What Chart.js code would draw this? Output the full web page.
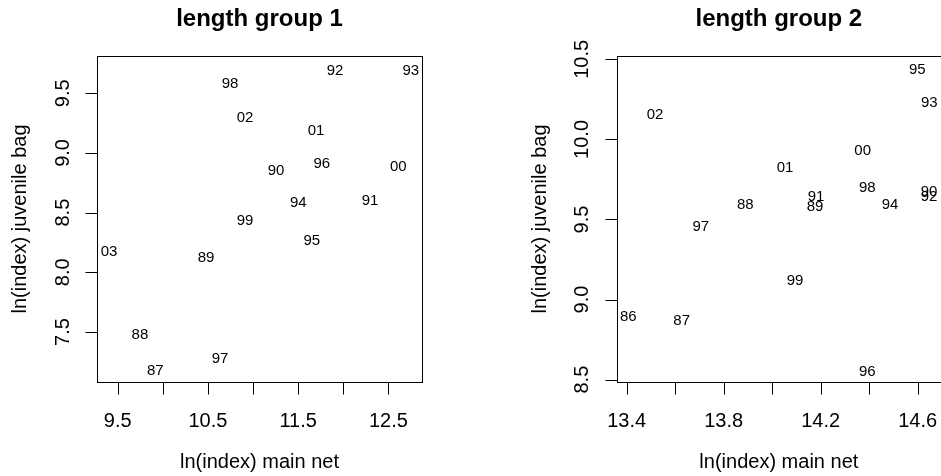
<!DOCTYPE html>
<html lang="en">
<head>
  <meta charset="UTF-8">
  <title>length groups: juvenile bag vs main net</title>
  <style>
    body {
      margin: 0;
      background: #fff;
    }
    .panel {
      position: absolute;
      top: 0;
    }
    #left { left: 0; }
    #right { left: 470px; }
  </style>
  <script src="https://cdn.jsdelivr.net/npm/chart.js"></script>
</head>
<body>
  <canvas id="left" class="panel" width="470" height="476"></canvas>
  <canvas id="right" class="panel" width="471" height="476"></canvas>

  <script>
    // length group 1: year labels, ln(index) main net, ln(index) juvenile bag
    const years1 = ['87', '88', '89', '90', '91', '92', '93', '94', '95', '96', '97', '98', '99', '00', '01', '02', '03'];
    const mainNet1 = [9.917, 9.747, 10.479, 11.255, 12.297, 11.909, 12.748, 11.502, 11.651, 11.762, 10.634, 10.745, 10.911, 12.611, 11.698, 10.911, 9.404];
    const juvBag1 = [7.183, 7.484, 8.129, 8.858, 8.612, 9.695, 9.701, 8.590, 8.271, 8.922, 7.286, 9.592, 8.439, 8.897, 9.193, 9.301, 8.179];

    // length group 2
    const years2 = ['86', '87', '88', '89', '90', '91', '92', '93', '94', '95', '96', '97', '98', '99', '00', '01', '02'];
    const mainNet2 = [13.407, 13.627, 13.889, 14.177, 14.647, 14.181, 14.647, 14.648, 14.486, 14.598, 14.392, 13.706, 14.392, 14.094, 14.373, 14.053, 13.517];
    const juvBag2 = [8.900, 8.871, 9.596, 9.589, 9.679, 9.650, 9.650, 10.233, 9.600, 10.439, 8.558, 9.464, 9.702, 9.127, 9.933, 9.827, 10.158];

    // axis ticks and the labels R kept (blank = tick without label)
    const xTicks1 = [9.5, 10, 10.5, 11, 11.5, 12, 12.5];
    const xTickLabels1 = ['9.5', '', '10.5', '', '11.5', '', '12.5'];
    const yTicks1 = [7.5, 8, 8.5, 9, 9.5];
    const yTickLabels1 = ['7.5', '8.0', '8.5', '9.0', '9.5'];

    const xTicks2 = [13.4, 13.6, 13.8, 14.0, 14.2, 14.4, 14.6];
    const xTickLabels2 = ['13.4', '', '13.8', '', '14.2', '', '14.6'];
    const yTicks2 = [8.5, 9, 9.5, 10, 10.5];
    const yTickLabels2 = ['8.5', '9.0', '9.5', '10.0', '10.5'];

    const FONT = '"Liberation Sans", Arial, Helvetica, sans-serif';

    function snap(v) {
      return Math.round(v) + 0.5;
    }

    // base-graphics style axes: box, outward ticks, rotated y labels
    const rAxes = {
      id: 'rAxes',
      afterDraw(chart, args, o) {
        const ctx = chart.ctx;
        const a = chart.chartArea;
        const xs = chart.scales.x;
        const ys = chart.scales.y;
        ctx.save();
        ctx.strokeStyle = '#000';
        ctx.fillStyle = '#000';
        ctx.lineWidth = 1;

        const l = snap(a.left), t = snap(a.top), r = snap(a.right), b = snap(a.bottom);
        ctx.strokeRect(l, t, r - l, b - t);

        ctx.font = '20px ' + FONT;
        ctx.textAlign = 'center';
        ctx.textBaseline = 'alphabetic';

        ctx.beginPath();
        o.xTicks.forEach(function(v) {
          const px = snap(xs.getPixelForValue(v));
          ctx.moveTo(px, b);
          ctx.lineTo(px, b + 12);
        });
        o.yTicks.forEach(function(v) {
          const py = snap(ys.getPixelForValue(v));
          ctx.moveTo(l - 12, py);
          ctx.lineTo(l, py);
        });
        ctx.stroke();

        o.xTicks.forEach(function(v, i) {
          if (o.xLabels[i]) ctx.fillText(o.xLabels[i], xs.getPixelForValue(v), a.bottom + 44.5);
        });
        o.yTicks.forEach(function(v, i) {
          ctx.save();
          ctx.translate(a.left - 28.5, ys.getPixelForValue(v));
          ctx.rotate(-Math.PI / 2);
          ctx.fillText(o.yLabels[i], 0, 0);
          ctx.restore();
        });

        // axis titles
        ctx.fillText(o.xTitle, (a.left + a.right) / 2, a.bottom + 86);
        ctx.save();
        ctx.translate(a.left - 71, (a.top + a.bottom) / 2);
        ctx.rotate(-Math.PI / 2);
        ctx.fillText(o.yTitle, 0, 0);
        ctx.restore();
        ctx.restore();
      }
    };

    // year labels drawn in place of the points
    const yearText = {
      id: 'yearText',
      afterDatasetsDraw(chart) {
        const ctx = chart.ctx;
        ctx.save();
        ctx.fillStyle = '#000';
        ctx.font = '15px ' + FONT;
        ctx.textAlign = 'center';
        ctx.textBaseline = 'alphabetic';
        chart.data.datasets.forEach(function(ds, di) {
          chart.getDatasetMeta(di).data.forEach(function(el, i) {
            ctx.fillText(ds.yearLabels[i], el.x, el.y + 5.3);
          });
        });
        ctx.restore();
      }
    };

    function makePanel(id, title, years, xs, ys, range, ticks, padding) {
      new Chart(document.getElementById(id), {
        type: 'scatter',
        data: {
          datasets: [{
            data: xs.map(function(v, i) { return { x: v, y: ys[i] }; }),
            yearLabels: years,
            pointRadius: 0,
            pointHoverRadius: 0
          }]
        },
        options: {
          responsive: false,
          animation: false,
          events: [],
          layout: { padding: padding },
          scales: {
            x: { type: 'linear', display: false, min: range[0], max: range[1] },
            y: { type: 'linear', display: false, min: range[2], max: range[3] }
          },
          plugins: {
            legend: { display: false },
            tooltip: { enabled: false },
            title: {
              display: true,
              text: title,
              color: '#000',
              font: { family: FONT, size: 24, weight: 'bold', lineHeight: 1.2 },
              padding: { top: 4.9, bottom: 22.3 }
            },
            rAxes: {
              xTicks: ticks.xTicks,
              xLabels: ticks.xLabels,
              yTicks: ticks.yTicks,
              yLabels: ticks.yLabels,
              xTitle: 'ln(index) main net',
              yTitle: 'ln(index) juvenile bag'
            }
          }
        },
        plugins: [rAxes, yearText]
      });
    }

    makePanel('left', 'length group 1', years1, mainNet1, juvBag1,
      [9.271, 12.873, 7.081, 9.812],
      { xTicks: xTicks1, xLabels: xTickLabels1, yTicks: yTicks1, yLabels: yTickLabels1 },
      { left: 97, right: 48, top: 0, bottom: 94 });

    makePanel('right', 'length group 2', years2, mainNet2, juvBag2,
      [13.359, 14.696, 8.485, 10.521],
      { xTicks: xTicks2, xLabels: xTickLabels2, yTicks: yTicks2, yLabels: yTickLabels2 },
      { left: 146.7, right: 0, top: 0, bottom: 94 });
  </script>
</body>
</html>
